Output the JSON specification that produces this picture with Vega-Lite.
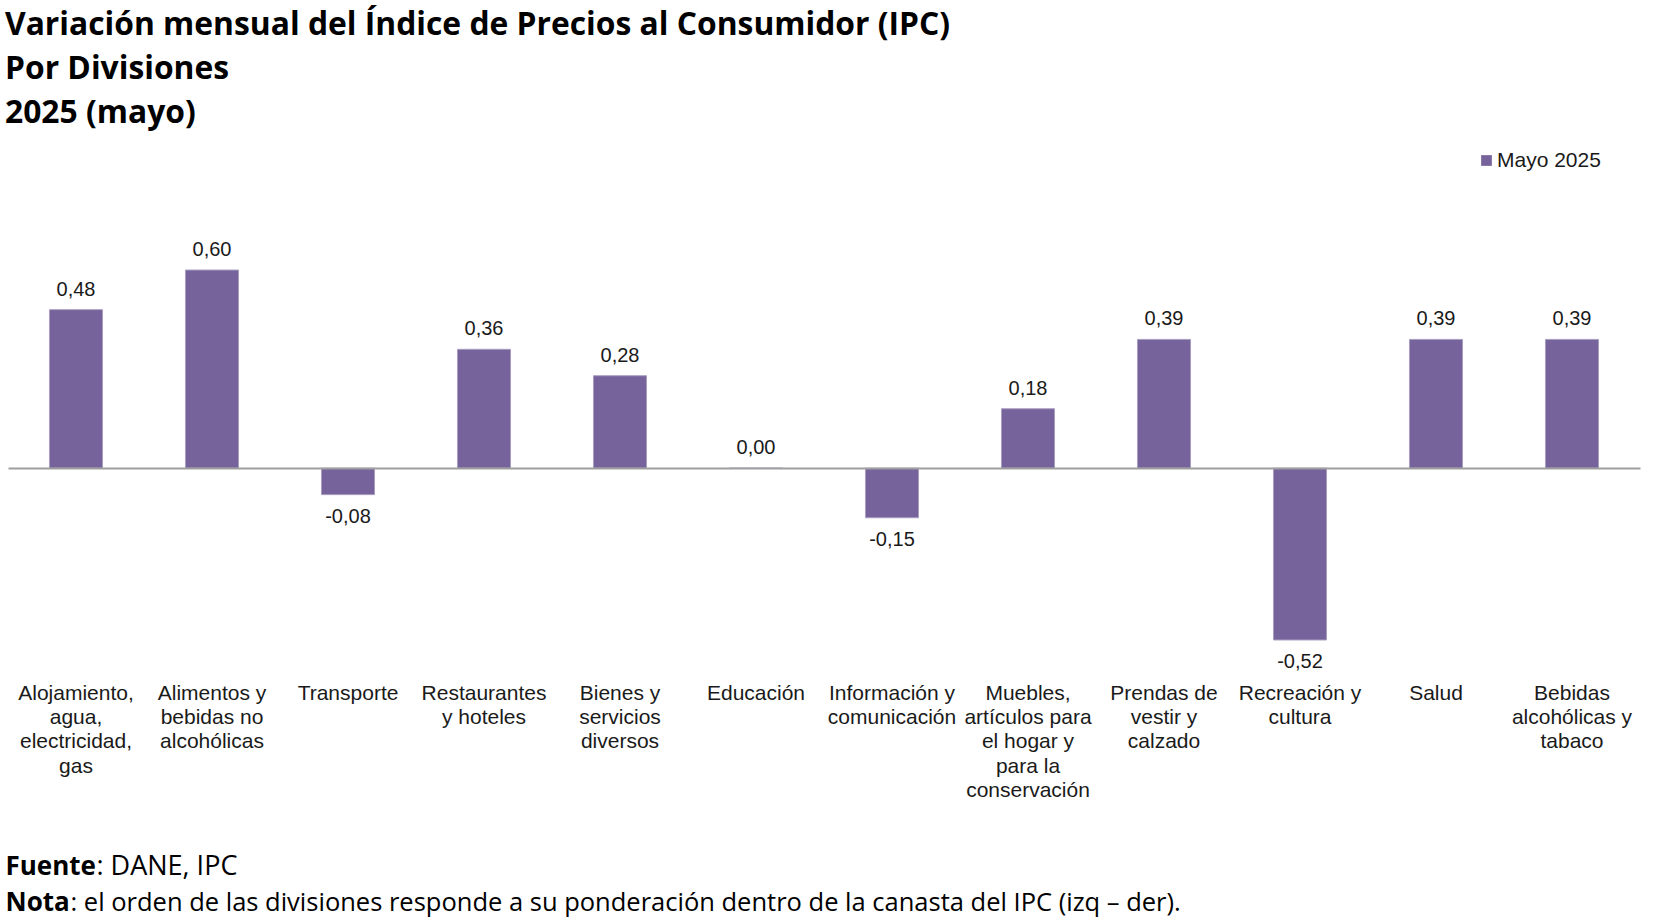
{
  "$schema": "https://vega.github.io/schema/vega-lite/v6.json",
  "autosize": {"type": "none"},
  "width": 1632,
  "height": 436,
  "padding": {"left": 8, "top": 237, "right": 14, "bottom": 249},
  "background": "white",
  "title": {
    "text": ["Variación mensual del Índice de Precios al Consumidor (IPC)", "Por Divisiones", "2025 (mayo)"],
    "anchor": "start",
    "frame": "group",
    "font": "Open Sans",
    "fontSize": 31.8,
    "fontWeight": "bold",
    "color": "#000000",
    "lineHeight": 44,
    "offset": 20,
    "dx": -3
  },
  "data": {
    "values": [
      {"division": "Alojamiento,\nagua,\nelectricidad,\ngas", "valor": 0.48, "serie": "Mayo 2025"},
      {"division": "Alimentos y\nbebidas no\nalcohólicas", "valor": 0.60, "serie": "Mayo 2025"},
      {"division": "Transporte", "valor": -0.08, "serie": "Mayo 2025"},
      {"division": "Restaurantes\ny hoteles", "valor": 0.36, "serie": "Mayo 2025"},
      {"division": "Bienes y\nservicios\ndiversos", "valor": 0.28, "serie": "Mayo 2025"},
      {"division": "Educación", "valor": 0.00, "serie": "Mayo 2025"},
      {"division": "Información y\ncomunicación", "valor": -0.15, "serie": "Mayo 2025"},
      {"division": "Muebles,\nartículos para\nel hogar y\npara la\nconservación", "valor": 0.18, "serie": "Mayo 2025"},
      {"division": "Prendas de\nvestir y\ncalzado", "valor": 0.39, "serie": "Mayo 2025"},
      {"division": "Recreación y\ncultura", "valor": -0.52, "serie": "Mayo 2025"},
      {"division": "Salud", "valor": 0.39, "serie": "Mayo 2025"},
      {"division": "Bebidas\nalcohólicas y\ntabaco", "valor": 0.39, "serie": "Mayo 2025"}
    ]
  },
  "encoding": {
    "x": {
      "field": "division",
      "type": "nominal",
      "sort": null,
      "scale": {"paddingInner": 0.61, "paddingOuter": 0.305},
      "axis": {
        "labelExpr": "split(datum.label, '\\n')",
        "labelAngle": 0,
        "labelFont": "Liberation Sans",
        "labelFontSize": 21,
        "labelColor": "#1a1a1a",
        "labelLineHeight": 24.4,
        "labelPadding": 9,
        "labelLimit": 400,
        "labelOverlap": false,
        "ticks": false,
        "domain": false,
        "grid": false,
        "title": ["Fuente", "Nota"],
        "titleFont": "Open Sans",
        "titleFontSize": 26,
        "titleFontWeight": "bold",
        "titleColor": "#000000",
        "titleLineHeight": 36,
        "titleAlign": "left",
        "titleBaseline": "alphabetic",
        "titleX": -3,
        "titleY": 201
      }
    }
  },
  "resolve": {"axis": {"y": "independent"}},
  "layer": [
    {
      "mark": {"type": "bar", "stroke": "#a99dc1", "strokeWidth": 1},
      "encoding": {
        "y": {
          "field": "valor",
          "type": "quantitative",
          "scale": {"domain": [-0.62, 0.7], "nice": false},
          "axis": {
            "orient": "left",
            "labels": false,
            "ticks": false,
            "domain": false,
            "grid": true,
            "values": [0],
            "gridColor": "#9f9f9f",
            "gridWidth": 2,
            "zindex": 1,
            "title": ": DANE, IPC",
            "titleFont": "Open Sans",
            "titleFontSize": 27,
            "titleFontWeight": "normal",
            "titleColor": "#000000",
            "titleAngle": 0,
            "titleAlign": "left",
            "titleBaseline": "alphabetic",
            "titleX": 88,
            "titleY": 637
          }
        },
        "color": {
          "field": "serie",
          "type": "nominal",
          "scale": {"range": ["#77639c"]},
          "legend": {
            "orient": "none",
            "legendX": 1468,
            "legendY": -87,
            "title": null,
            "symbolType": "square",
            "symbolSize": 115,
            "symbolStrokeWidth": 0,
            "labelFont": "Liberation Sans",
            "labelFontSize": 21,
            "labelColor": "#1a1a1a",
            "labelOffset": 0,
            "padding": 0
          }
        }
      }
    },
    {
      "transform": [{"filter": "datum.valor >= 0"}],
      "mark": {"type": "text", "baseline": "middle", "dy": -20, "font": "Liberation Sans", "fontSize": 20, "color": "#1a1a1a"},
      "encoding": {
        "y": {
          "field": "valor",
          "type": "quantitative",
          "axis": {
            "orient": "right",
            "labels": false,
            "ticks": false,
            "domain": false,
            "grid": false,
            "title": ": el orden de las divisiones responde a su ponderación dentro de la canasta del IPC (izq – der).",
            "titleFont": "Open Sans",
            "titleFontSize": 25.5,
            "titleFontWeight": "normal",
            "titleColor": "#000000",
            "titleAngle": 0,
            "titleAlign": "left",
            "titleBaseline": "alphabetic",
            "titleX": -1570,
            "titleY": 673
          }
        },
        "text": {"field": "valor", "type": "quantitative", "format": ".2f"}
      }
    },
    {
      "transform": [{"filter": "datum.valor < 0"}],
      "mark": {"type": "text", "baseline": "middle", "dy": 22, "font": "Liberation Sans", "fontSize": 20, "color": "#1a1a1a"},
      "encoding": {
        "y": {"field": "valor", "type": "quantitative", "axis": null},
        "text": {"field": "valor", "type": "quantitative", "format": ".2f"}
      }
    }
  ],
  "config": {
    "view": {"stroke": null},
    "axis": {"grid": false},
    "locale": {
      "number": {"decimal": ",", "thousands": ".", "grouping": [3], "currency": ["$", ""], "minus": "-"}
    }
  }
}
